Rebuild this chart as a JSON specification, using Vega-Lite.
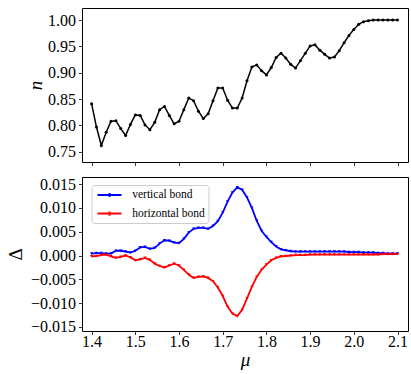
{
  "$schema": "https://vega.github.io/schema/vega-lite/v6.json",
  "padding": {"left": 5, "top": 7, "right": 5, "bottom": 2},
  "spacing": 15,
  "bounds": "flush",
  "config": {
    "font": "Liberation Serif",
    "view": {"stroke": "#000", "strokeWidth": 1},
    "axis": {"domain": false, "grid": false, "tickColor": "#000", "tickSize": 3.5, "tickWidth": 0.8, "labelFont": "Liberation Serif", "labelFontSize": 16, "labelColor": "#000", "titleFont": "Liberation Serif", "titleFontSize": 19, "titleFontWeight": "normal", "titleColor": "#000", "labelPadding": 3}
  },
  "datasets": {
    "top": [
      {"mu": 1.4, "n": 0.841}, {"mu": 1.41111, "n": 0.797}, {"mu": 1.42222, "n": 0.762}, {"mu": 1.43333, "n": 0.787},
      {"mu": 1.44444, "n": 0.808}, {"mu": 1.45556, "n": 0.809}, {"mu": 1.46667, "n": 0.794}, {"mu": 1.47778, "n": 0.781},
      {"mu": 1.48889, "n": 0.802}, {"mu": 1.5, "n": 0.82}, {"mu": 1.51111, "n": 0.819}, {"mu": 1.52222, "n": 0.801},
      {"mu": 1.53333, "n": 0.792}, {"mu": 1.54444, "n": 0.806}, {"mu": 1.55556, "n": 0.83}, {"mu": 1.56667, "n": 0.836},
      {"mu": 1.57778, "n": 0.819}, {"mu": 1.58889, "n": 0.803}, {"mu": 1.6, "n": 0.808}, {"mu": 1.61111, "n": 0.83},
      {"mu": 1.62222, "n": 0.852}, {"mu": 1.63333, "n": 0.847}, {"mu": 1.64444, "n": 0.827}, {"mu": 1.65556, "n": 0.813},
      {"mu": 1.66667, "n": 0.822}, {"mu": 1.67778, "n": 0.847}, {"mu": 1.68889, "n": 0.871}, {"mu": 1.7, "n": 0.871},
      {"mu": 1.71111, "n": 0.848}, {"mu": 1.72222, "n": 0.833}, {"mu": 1.73333, "n": 0.833}, {"mu": 1.74444, "n": 0.852},
      {"mu": 1.75556, "n": 0.885}, {"mu": 1.76667, "n": 0.911}, {"mu": 1.77778, "n": 0.915}, {"mu": 1.78889, "n": 0.904},
      {"mu": 1.8, "n": 0.896}, {"mu": 1.81111, "n": 0.91}, {"mu": 1.82222, "n": 0.929}, {"mu": 1.83333, "n": 0.937},
      {"mu": 1.84444, "n": 0.928}, {"mu": 1.85556, "n": 0.916}, {"mu": 1.86667, "n": 0.909}, {"mu": 1.87778, "n": 0.923},
      {"mu": 1.88889, "n": 0.937}, {"mu": 1.9, "n": 0.951}, {"mu": 1.91111, "n": 0.953}, {"mu": 1.92222, "n": 0.943},
      {"mu": 1.93333, "n": 0.935}, {"mu": 1.94444, "n": 0.928}, {"mu": 1.95556, "n": 0.93}, {"mu": 1.96667, "n": 0.942},
      {"mu": 1.97778, "n": 0.957}, {"mu": 1.98889, "n": 0.971}, {"mu": 2.0, "n": 0.982}, {"mu": 2.01111, "n": 0.992},
      {"mu": 2.02222, "n": 0.997}, {"mu": 2.03333, "n": 0.999}, {"mu": 2.04444, "n": 1.0}, {"mu": 2.05556, "n": 1.0},
      {"mu": 2.06667, "n": 1.0}, {"mu": 2.07778, "n": 1.0}, {"mu": 2.08889, "n": 1.0}, {"mu": 2.1, "n": 1.0}
    ],
    "bottom": [
      {"mu": 1.4, "d": 0.0004, "bond": "vertical bond"}, {"mu": 1.41111, "d": 0.0005, "bond": "vertical bond"}, {"mu": 1.42222, "d": 0.0005, "bond": "vertical bond"}, {"mu": 1.43333, "d": 0.0004, "bond": "vertical bond"},
      {"mu": 1.44444, "d": 0.0004, "bond": "vertical bond"}, {"mu": 1.45556, "d": 0.001, "bond": "vertical bond"}, {"mu": 1.46667, "d": 0.001, "bond": "vertical bond"}, {"mu": 1.47778, "d": 0.0008, "bond": "vertical bond"},
      {"mu": 1.48889, "d": 0.0006, "bond": "vertical bond"}, {"mu": 1.5, "d": 0.001, "bond": "vertical bond"}, {"mu": 1.51111, "d": 0.0017, "bond": "vertical bond"}, {"mu": 1.52222, "d": 0.0018, "bond": "vertical bond"},
      {"mu": 1.53333, "d": 0.0014, "bond": "vertical bond"}, {"mu": 1.54444, "d": 0.0016, "bond": "vertical bond"}, {"mu": 1.55556, "d": 0.0025, "bond": "vertical bond"}, {"mu": 1.56667, "d": 0.0032, "bond": "vertical bond"},
      {"mu": 1.57778, "d": 0.0031, "bond": "vertical bond"}, {"mu": 1.58889, "d": 0.0027, "bond": "vertical bond"}, {"mu": 1.6, "d": 0.0026, "bond": "vertical bond"}, {"mu": 1.61111, "d": 0.0035, "bond": "vertical bond"},
      {"mu": 1.62222, "d": 0.0048, "bond": "vertical bond"}, {"mu": 1.63333, "d": 0.0056, "bond": "vertical bond"}, {"mu": 1.64444, "d": 0.0058, "bond": "vertical bond"}, {"mu": 1.65556, "d": 0.0058, "bond": "vertical bond"},
      {"mu": 1.66667, "d": 0.0056, "bond": "vertical bond"}, {"mu": 1.67778, "d": 0.0062, "bond": "vertical bond"}, {"mu": 1.68889, "d": 0.0072, "bond": "vertical bond"}, {"mu": 1.7, "d": 0.009, "bond": "vertical bond"},
      {"mu": 1.71111, "d": 0.0113, "bond": "vertical bond"}, {"mu": 1.72222, "d": 0.0132, "bond": "vertical bond"}, {"mu": 1.73333, "d": 0.0143, "bond": "vertical bond"}, {"mu": 1.74444, "d": 0.0138, "bond": "vertical bond"},
      {"mu": 1.75556, "d": 0.0122, "bond": "vertical bond"}, {"mu": 1.76667, "d": 0.01, "bond": "vertical bond"}, {"mu": 1.77778, "d": 0.0073, "bond": "vertical bond"}, {"mu": 1.78889, "d": 0.0052, "bond": "vertical bond"},
      {"mu": 1.8, "d": 0.0039, "bond": "vertical bond"}, {"mu": 1.81111, "d": 0.0028, "bond": "vertical bond"}, {"mu": 1.82222, "d": 0.0019, "bond": "vertical bond"}, {"mu": 1.83333, "d": 0.0013, "bond": "vertical bond"},
      {"mu": 1.84444, "d": 0.0011, "bond": "vertical bond"}, {"mu": 1.85556, "d": 0.0009, "bond": "vertical bond"}, {"mu": 1.86667, "d": 0.0008, "bond": "vertical bond"}, {"mu": 1.87778, "d": 0.0008, "bond": "vertical bond"},
      {"mu": 1.88889, "d": 0.0008, "bond": "vertical bond"}, {"mu": 1.9, "d": 0.0008, "bond": "vertical bond"}, {"mu": 1.91111, "d": 0.0008, "bond": "vertical bond"}, {"mu": 1.92222, "d": 0.0008, "bond": "vertical bond"},
      {"mu": 1.93333, "d": 0.0008, "bond": "vertical bond"}, {"mu": 1.94444, "d": 0.0008, "bond": "vertical bond"}, {"mu": 1.95556, "d": 0.0008, "bond": "vertical bond"}, {"mu": 1.96667, "d": 0.0008, "bond": "vertical bond"},
      {"mu": 1.97778, "d": 0.0008, "bond": "vertical bond"}, {"mu": 1.98889, "d": 0.0007, "bond": "vertical bond"}, {"mu": 2.0, "d": 0.0007, "bond": "vertical bond"}, {"mu": 2.01111, "d": 0.0007, "bond": "vertical bond"},
      {"mu": 2.02222, "d": 0.0006, "bond": "vertical bond"}, {"mu": 2.03333, "d": 0.0006, "bond": "vertical bond"}, {"mu": 2.04444, "d": 0.0006, "bond": "vertical bond"}, {"mu": 2.05556, "d": 0.0005, "bond": "vertical bond"},
      {"mu": 2.06667, "d": 0.0005, "bond": "vertical bond"}, {"mu": 2.07778, "d": 0.0004, "bond": "vertical bond"}, {"mu": 2.08889, "d": 0.0004, "bond": "vertical bond"}, {"mu": 2.1, "d": 0.0004, "bond": "vertical bond"},
      {"mu": 1.4, "d": -0.0002, "bond": "horizontal bond"}, {"mu": 1.41111, "d": -0.0001, "bond": "horizontal bond"}, {"mu": 1.42222, "d": 0.0001, "bond": "horizontal bond"}, {"mu": 1.43333, "d": 0.0002, "bond": "horizontal bond"},
      {"mu": 1.44444, "d": -0.0002, "bond": "horizontal bond"}, {"mu": 1.45556, "d": -0.0005, "bond": "horizontal bond"}, {"mu": 1.46667, "d": -0.0003, "bond": "horizontal bond"}, {"mu": 1.47778, "d": 0.0, "bond": "horizontal bond"},
      {"mu": 1.48889, "d": -0.0004, "bond": "horizontal bond"}, {"mu": 1.5, "d": -0.001, "bond": "horizontal bond"}, {"mu": 1.51111, "d": -0.0008, "bond": "horizontal bond"}, {"mu": 1.52222, "d": -0.0005, "bond": "horizontal bond"},
      {"mu": 1.53333, "d": -0.0009, "bond": "horizontal bond"}, {"mu": 1.54444, "d": -0.0017, "bond": "horizontal bond"}, {"mu": 1.55556, "d": -0.0022, "bond": "horizontal bond"}, {"mu": 1.56667, "d": -0.0025, "bond": "horizontal bond"},
      {"mu": 1.57778, "d": -0.0021, "bond": "horizontal bond"}, {"mu": 1.58889, "d": -0.0017, "bond": "horizontal bond"}, {"mu": 1.6, "d": -0.0021, "bond": "horizontal bond"}, {"mu": 1.61111, "d": -0.003, "bond": "horizontal bond"},
      {"mu": 1.62222, "d": -0.004, "bond": "horizontal bond"}, {"mu": 1.63333, "d": -0.0047, "bond": "horizontal bond"}, {"mu": 1.64444, "d": -0.0045, "bond": "horizontal bond"}, {"mu": 1.65556, "d": -0.0044, "bond": "horizontal bond"},
      {"mu": 1.66667, "d": -0.0047, "bond": "horizontal bond"}, {"mu": 1.67778, "d": -0.0054, "bond": "horizontal bond"}, {"mu": 1.68889, "d": -0.0067, "bond": "horizontal bond"}, {"mu": 1.7, "d": -0.0085, "bond": "horizontal bond"},
      {"mu": 1.71111, "d": -0.0107, "bond": "horizontal bond"}, {"mu": 1.72222, "d": -0.0122, "bond": "horizontal bond"}, {"mu": 1.73333, "d": -0.0127, "bond": "horizontal bond"}, {"mu": 1.74444, "d": -0.0114, "bond": "horizontal bond"},
      {"mu": 1.75556, "d": -0.009, "bond": "horizontal bond"}, {"mu": 1.76667, "d": -0.0066, "bond": "horizontal bond"}, {"mu": 1.77778, "d": -0.0045, "bond": "horizontal bond"}, {"mu": 1.78889, "d": -0.003, "bond": "horizontal bond"},
      {"mu": 1.8, "d": -0.0019, "bond": "horizontal bond"}, {"mu": 1.81111, "d": -0.001, "bond": "horizontal bond"}, {"mu": 1.82222, "d": -0.0005, "bond": "horizontal bond"}, {"mu": 1.83333, "d": -0.0002, "bond": "horizontal bond"},
      {"mu": 1.84444, "d": -0.0001, "bond": "horizontal bond"}, {"mu": 1.85556, "d": 0.0, "bond": "horizontal bond"}, {"mu": 1.86667, "d": 0.0001, "bond": "horizontal bond"}, {"mu": 1.87778, "d": 0.0001, "bond": "horizontal bond"},
      {"mu": 1.88889, "d": 0.0001, "bond": "horizontal bond"}, {"mu": 1.9, "d": 0.0002, "bond": "horizontal bond"}, {"mu": 1.91111, "d": 0.0002, "bond": "horizontal bond"}, {"mu": 1.92222, "d": 0.0002, "bond": "horizontal bond"},
      {"mu": 1.93333, "d": 0.0002, "bond": "horizontal bond"}, {"mu": 1.94444, "d": 0.0002, "bond": "horizontal bond"}, {"mu": 1.95556, "d": 0.0002, "bond": "horizontal bond"}, {"mu": 1.96667, "d": 0.0002, "bond": "horizontal bond"},
      {"mu": 1.97778, "d": 0.0002, "bond": "horizontal bond"}, {"mu": 1.98889, "d": 0.0002, "bond": "horizontal bond"}, {"mu": 2.0, "d": 0.0002, "bond": "horizontal bond"}, {"mu": 2.01111, "d": 0.0002, "bond": "horizontal bond"},
      {"mu": 2.02222, "d": 0.0002, "bond": "horizontal bond"}, {"mu": 2.03333, "d": 0.0002, "bond": "horizontal bond"}, {"mu": 2.04444, "d": 0.0002, "bond": "horizontal bond"}, {"mu": 2.05556, "d": 0.0002, "bond": "horizontal bond"},
      {"mu": 2.06667, "d": 0.0003, "bond": "horizontal bond"}, {"mu": 2.07778, "d": 0.0003, "bond": "horizontal bond"}, {"mu": 2.08889, "d": 0.0003, "bond": "horizontal bond"}, {"mu": 2.1, "d": 0.0003, "bond": "horizontal bond"}
    ]
  },
  "vconcat": [
    {
      "width": 326,
      "height": 154,
      "data": {"name": "top"},
      "mark": {"type": "line", "color": "#000", "strokeWidth": 1.5, "point": {"filled": true, "size": 9, "color": "#000"}},
      "encoding": {
        "x": {"field": "mu", "type": "quantitative", "scale": {"domain": [1.378, 2.124], "nice": false, "zero": false},
              "axis": {"values": [1.4, 1.5, 1.6, 1.7, 1.8, 1.9, 2.0, 2.1], "labels": false, "title": null}},
        "y": {"field": "n", "type": "quantitative", "scale": {"domain": [0.7306, 1.023], "nice": false, "zero": false},
              "axis": {"values": [0.75, 0.8, 0.85, 0.9, 0.95, 1.0], "format": ".2f", "title": "n", "titleFontStyle": "italic", "titlePadding": 2}}
      }
    },
    {
      "width": 326,
      "height": 154,
      "data": {"name": "bottom"},
      "mark": {"type": "line", "strokeWidth": 1.8, "point": {"filled": true, "size": 10, "shape": "triangle-down"}},
      "encoding": {
        "x": {"field": "mu", "type": "quantitative", "scale": {"domain": [1.378, 2.124], "nice": false, "zero": false},
              "axis": {"values": [1.4, 1.5, 1.6, 1.7, 1.8, 1.9, 2.0, 2.1], "format": ".1f", "title": "μ", "titleFontStyle": "italic", "labelPadding": -1, "titlePadding": 1}},
        "y": {"field": "d", "type": "quantitative", "scale": {"domain": [-0.01584, 0.01648], "nice": false, "zero": false},
              "axis": {"values": [-0.015, -0.01, -0.005, 0, 0.005, 0.01, 0.015], "format": ".3f", "title": "Δ", "titlePadding": 5}},
        "color": {"field": "bond", "type": "nominal",
                  "scale": {"domain": ["vertical bond", "horizontal bond"], "range": ["#0000ff", "#ff0000"]},
                  "legend": {"title": null, "orient": "none", "legendX": 9.5, "legendY": 177,
                             "symbolType": "M-0.667,0H3.333M1.333,-0.35V0.35", "symbolSize": 144, "symbolStrokeWidth": 2,
                             "labelFont": "Liberation Serif", "labelFontSize": 11.5, "labelColor": "#000", "labelLimit": 300,
                             "padding": 3, "rowPadding": 4.6, "labelOffset": 23.7,
                             "strokeColor": "#cccccc", "fillColor": "rgba(255,255,255,0.8)", "cornerRadius": 3}},
        "order": {"field": "mu", "type": "quantitative"}
      }
    }
  ]
}
